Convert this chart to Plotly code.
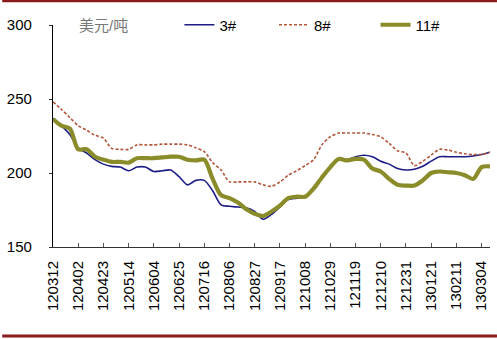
import plotly.graph_objects as go

dates = ["120312", "120319", "120326", "120402", "120409", "120416", "120423", "120430",
         "120507", "120514", "120521", "120528", "120604", "120611", "120618", "120625",
         "120702", "120709", "120716", "120723", "120730", "120806", "120813", "120820",
         "120827", "120903", "120910", "120917", "120924", "121001", "121008", "121015",
         "121022", "121029", "121105", "121112", "121119", "121126", "121203", "121210",
         "121217", "121224", "121231", "130107", "130114", "130121", "130128", "130204",
         "130211", "130218", "130225", "130304", "130311"]

s3 = [237, 232, 226, 217, 213.5, 209, 206, 204.5, 204, 201.5, 204, 204, 201,
      201.5, 202, 197.5, 192, 195, 195, 188, 178.5, 177.5, 177, 176.5, 174, 168.8,
      172, 177, 182, 183, 184, 190, 197, 204, 210, 209, 211, 212, 211, 208,
      206, 203, 202, 202.5, 204.5, 208, 211, 211, 211, 211, 211.5, 212.5, 214]

s8 = [248, 243, 237.5, 232, 229, 225.5, 223.5, 216.5, 216, 216, 219, 219, 219,
      219.5, 219.5, 219.5, 219, 217, 214.5, 207, 202, 194, 194, 194, 194, 192,
      191, 194, 198.5, 201.5, 205, 209, 219, 224.5, 227, 227, 227, 227, 226, 224.5,
      220, 215, 213.5, 205, 208, 212, 216, 215.5, 214, 213, 212.5, 212.5, 214]

s11 = [236.5, 232, 230, 216, 216, 211, 209, 207.5, 207.5, 207, 210, 210, 210,
       210.5, 211, 211, 209, 208.5, 209, 196, 185, 183, 180, 175.5, 172.5, 171,
       174, 178, 183, 184, 184, 189.5, 197, 204, 209.5, 208.5, 209.5, 209, 203, 201,
       196, 192, 191.5, 191.5, 195, 200, 201, 200.5, 200, 198.5, 196, 204, 204.5]

series_names = ["3#", "8#", "11#"]
unit_label = "美元/吨"
y_ticks = [150, 200, 250, 300]

FONT = "Arial, 'Liberation Sans', 'Noto Sans CJK SC', sans-serif"

fig = go.Figure()
fig.add_trace(go.Scatter(x=dates, y=s3, name=series_names[0], mode="lines",
                         line=dict(color="#1c1c86", width=1.6, shape="spline", smoothing=0.8),
                         legend="legend"))
fig.add_trace(go.Scatter(x=dates, y=s8, name=series_names[1], mode="lines",
                         line=dict(color="#b4553a", width=1.6, dash="3px,2px", shape="spline", smoothing=0.8),
                         legend="legend2"))
fig.add_trace(go.Scatter(x=dates, y=s11, name=series_names[2], mode="lines",
                         line=dict(color="#8a8c2a", width=4.2, shape="spline", smoothing=0.8),
                         legend="legend3"))

L, R, T, B = 51, 7, 25, 92
W, H = 497, 339
pw = W - L - R

def px2paper(px):
    return (px - L) / pw

leg_common = dict(orientation="h", yanchor="middle", y=1.0, xanchor="left",
                  bgcolor="rgba(0,0,0,0)", font=dict(family=FONT, size=15, color="#000"),
                  borderwidth=0, tracegroupgap=0)

fig.update_layout(
    width=W, height=H,
    margin=dict(l=L, r=R, t=T, b=B),
    paper_bgcolor="white", plot_bgcolor="white",
    font=dict(family=FONT, size=15, color="#000"),
    showlegend=True,
    legend=dict(x=px2paper(178), **leg_common),
    legend2=dict(x=px2paper(273), **leg_common),
    legend3=dict(x=px2paper(375), **leg_common),
    xaxis=dict(
        type="category", range=[0, len(dates) - 1],
        tickmode="array", tickvals=dates[::3], ticktext=dates[::3],
        tickangle=-90, ticks="inside", ticklen=4, tickcolor="#555",
        showline=True, linecolor="#333", linewidth=1,
        showgrid=False, zeroline=False,
        tickfont=dict(family=FONT, size=15, color="#000"),
        ticklabelstandoff=7,
    ),
    yaxis=dict(
        range=[150, 300], tickvals=y_ticks,
        ticks="outside", ticklen=3, tickcolor="#333",
        showline=True, linecolor="#000", linewidth=1.2,
        showgrid=False, zeroline=False,
        tickfont=dict(family=FONT, size=15, color="#000"),
        ticklabelstandoff=14,
    ),
    annotations=[dict(text=unit_label, xref="paper", yref="paper",
                      x=px2paper(75), y=1.0, xanchor="left", yanchor="middle",
                      showarrow=False, font=dict(family=FONT, size=15, color="#777"))],
    shapes=[
        dict(type="line", xref="paper", yref="paper", x0=-L / pw, x1=1 + R / pw,
             y0=1 + (T - 1) / (H - T - B), y1=1 + (T - 1) / (H - T - B),
             line=dict(color="#8b1a1a", width=2.5)),
        dict(type="line", xref="paper", yref="paper", x0=-L / pw, x1=1 + R / pw,
             y0=-(B - 3) / (H - T - B), y1=-(B - 3) / (H - T - B),
             line=dict(color="#8b1a1a", width=3)),
    ],
)

fig.write_html("out.html")
